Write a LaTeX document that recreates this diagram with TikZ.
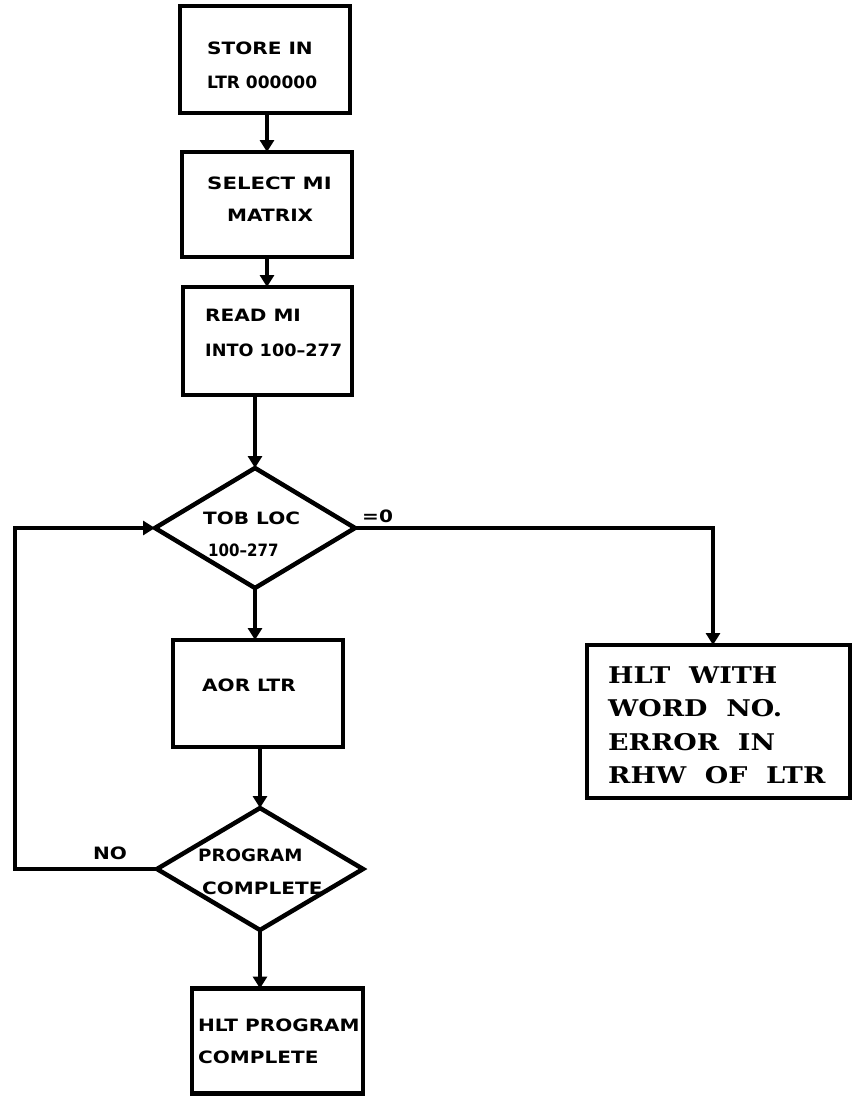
\documentclass[tikz,border=0pt]{standalone}
\usepackage{fontspec}
\usetikzlibrary{shapes.geometric,arrows.meta}
\newfontfamily\lettering{DejaVu Sans}[FakeStretch=1.18]
\newfontfamily\clar{DejaVu Serif}[FakeStretch=1.17]
\newcommand{\hsq}[2]{\scalebox{#1}[1]{#2}}
\begin{document}
\begin{tikzpicture}[x=1pt,y=-1pt,
  box/.style={draw, line width=4.5pt, inner sep=0pt, outer sep=0pt},
  dia/.style={draw, diamond, line width=4.5pt, inner sep=0pt, outer sep=0pt},
  conn/.style={line width=3.5pt},
  arr/.style={conn, -{Triangle[width=14pt,length=12pt]}},
  small/.style={font=\lettering\bfseries\fontsize{17}{17}\selectfont, inner sep=0pt, anchor=west},
  big/.style={font=\clar\bfseries\fontsize{23}{23}\selectfont, inner sep=0pt, anchor=west}]
\useasboundingbox (0,0) rectangle (854,1097);
% boxes
\node[box, minimum width=170pt, minimum height=107pt] (b1) at (265,59.5) {};
\node[box, minimum width=170pt, minimum height=105pt] (b2) at (267,204.5) {};
\node[box, minimum width=169pt, minimum height=108pt] (b3) at (267.5,341) {};
\node[dia, minimum width=200pt, minimum height=120pt] (d1) at (255,528) {};
\node[box, minimum width=170pt, minimum height=107pt] (aor) at (258,693.5) {};
\node[dia, minimum width=206pt, minimum height=122pt] (d2) at (260,869) {};
\node[box, minimum width=171pt, minimum height=105pt] (b6) at (277.5,1041) {};
\node[box, minimum width=263pt, minimum height=153pt] (rb) at (718.5,721.5) {};
% coordinates
\coordinate (lp1) at (15,869);
\coordinate (lp2) at (15,528);
\coordinate (rc) at (713,528);
% connectors
\draw[arr] (b1.south -| b2.north) -- (b2.north);
\draw[arr] (b2.south) -- (b2.south |- b3.north);
\draw[arr] (b3.south -| d1.north) -- (d1.north);
\draw[arr] (d1.south) -- (d1.south |- aor.north);
\draw[arr] (aor.south -| d2.north) -- (d2.north);
\draw[arr] (d2.south) -- (d2.south |- b6.north);
\draw[arr] (d2.west) -- (lp1) -- (lp2) -- (d1.west);
\draw[arr] (d1.east) -- (rc) -- (rc |- rb.north);
% texts
\node[small] (t1a) at (207,48) {STORE IN};
\node[small] (t1b) at (207,82) {\hsq{0.85}{LTR 000000}};
\node[small] (t2a) at (207,183) {\hsq{1.06}{SELECT MI}};
\node[small] (t2b) at (227,215) {MATRIX};
\node[small] (t3a) at (205,315) {READ MI};
\node[small] (t3b) at (205,350) {\hsq{0.88}{INTO 100–277}};
\node[small] (t4a) at (203,518) {TOB LOC};
\node[small] (t4b) at (208,550) {\hsq{0.75}{100–277}};
\node[small] (eq) at (362,516) {=0};
\node[small] (t5) at (202,685) {AOR LTR};
\node[small] (no) at (93,853) {NO};
\node[small] (t6a) at (198,855) {\hsq{0.91}{PROGRAM}};
\node[small] (t6b) at (202,888) {COMPLETE};
\node[small] (t7a) at (198,1025) {HLT PROGRAM};
\node[small] (t7b) at (198,1057) {COMPLETE};
\node[big] (r1) at (608,675) {HLT\ \ WITH};
\node[big] (r2) at (608,708) {WORD\ \ NO.};
\node[big] (r3) at (608,742) {ERROR\ \ IN};
\node[big] (r4) at (608,775) {RHW\ \ OF\ \ LTR};
\end{tikzpicture}
\end{document}
